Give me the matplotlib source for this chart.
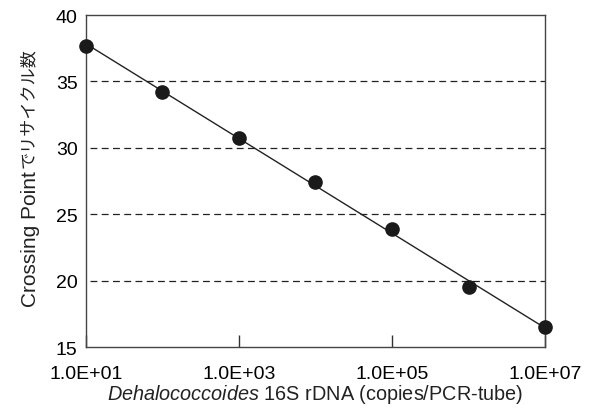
import numpy as np
import matplotlib
matplotlib.use("Agg")
import matplotlib.pyplot as plt
from matplotlib.ticker import FixedLocator, NullLocator

copies = [1e1, 1e2, 1e3, 1e4, 1e5, 1e6, 1e7]
cp_values = [37.7, 34.2, 30.75, 27.4, 23.9, 19.5, 16.5]
x_ticks = [1e1, 1e3, 1e5, 1e7]
x_tick_labels = ["1.0E+01", "1.0E+03", "1.0E+05", "1.0E+07"]
y_ticks = [15, 20, 25, 30, 35, 40]
grid_levels = [20, 25, 30, 35]

plt.rcParams['font.family'] = ['Liberation Sans', 'Noto Sans CJK JP', 'DejaVu Sans']
plt.rcParams['mathtext.fontset'] = 'custom'
plt.rcParams['mathtext.rm'] = 'Liberation Sans'
plt.rcParams['mathtext.it'] = 'Liberation Sans:italic'

fig = plt.figure(figsize=(5.95, 4.14), dpi=100)
ax = fig.add_axes([0.1445, 0.1594, 0.7715, 0.8019])

logx = np.log10(copies)
slope, intercept = np.polyfit(logx, cp_values, 1)
fx = np.array([logx[0], logx[-1]])
ax.plot(10 ** fx, slope * fx + intercept, color='#222222', lw=1.0, zorder=2)

for g in grid_levels:
    ax.axhline(g, xmin=0.008, xmax=1, color='#222222', lw=0.9, ls=(0, (5.5, 3.5)), zorder=1)

ax.plot(copies, cp_values, 'o', color='#1a1a1a', markersize=9.5, zorder=3, clip_on=False)

ax.set_xscale('log')
ax.set_xlim(1e1, 1e7)
ax.set_ylim(15, 40)
ax.xaxis.set_major_locator(FixedLocator(x_ticks))
ax.xaxis.set_minor_locator(NullLocator())
ax.set_xticklabels(x_tick_labels)
ax.set_yticks(y_ticks)
ax.tick_params(axis='x', direction='in', length=9, width=1.0, color='#333333', labelsize=14, pad=13)
ax.tick_params(axis='y', length=0, labelsize=14, pad=6)

for s in ax.spines.values():
    s.set_color('#444444')
    s.set_linewidth(1.0)

ax.set_xlabel(r"$\it{Dehalococcoides}$ 16S rDNA (copies/PCR-tube)", fontsize=14.3,
              labelpad=0, color='#222222')

# y label: Latin part slightly larger than the Japanese part, as in the reference
t1 = fig.text(31 / 595, 1 - 307 / 414, "Crossing Point", rotation=90,
              ha='center', va='bottom', fontsize=15, color='#222222')
ax.annotate("でリサイクル数", xy=(0.5, 1.0), xycoords=t1, xytext=(-2, 2),
            textcoords='offset points', rotation=90, ha='center', va='bottom',
            fontsize=12.3, color='#222222', family=['Noto Sans CJK JP', 'DejaVu Sans'],
            annotation_clip=False)

fig.savefig("out.png", dpi=100)
